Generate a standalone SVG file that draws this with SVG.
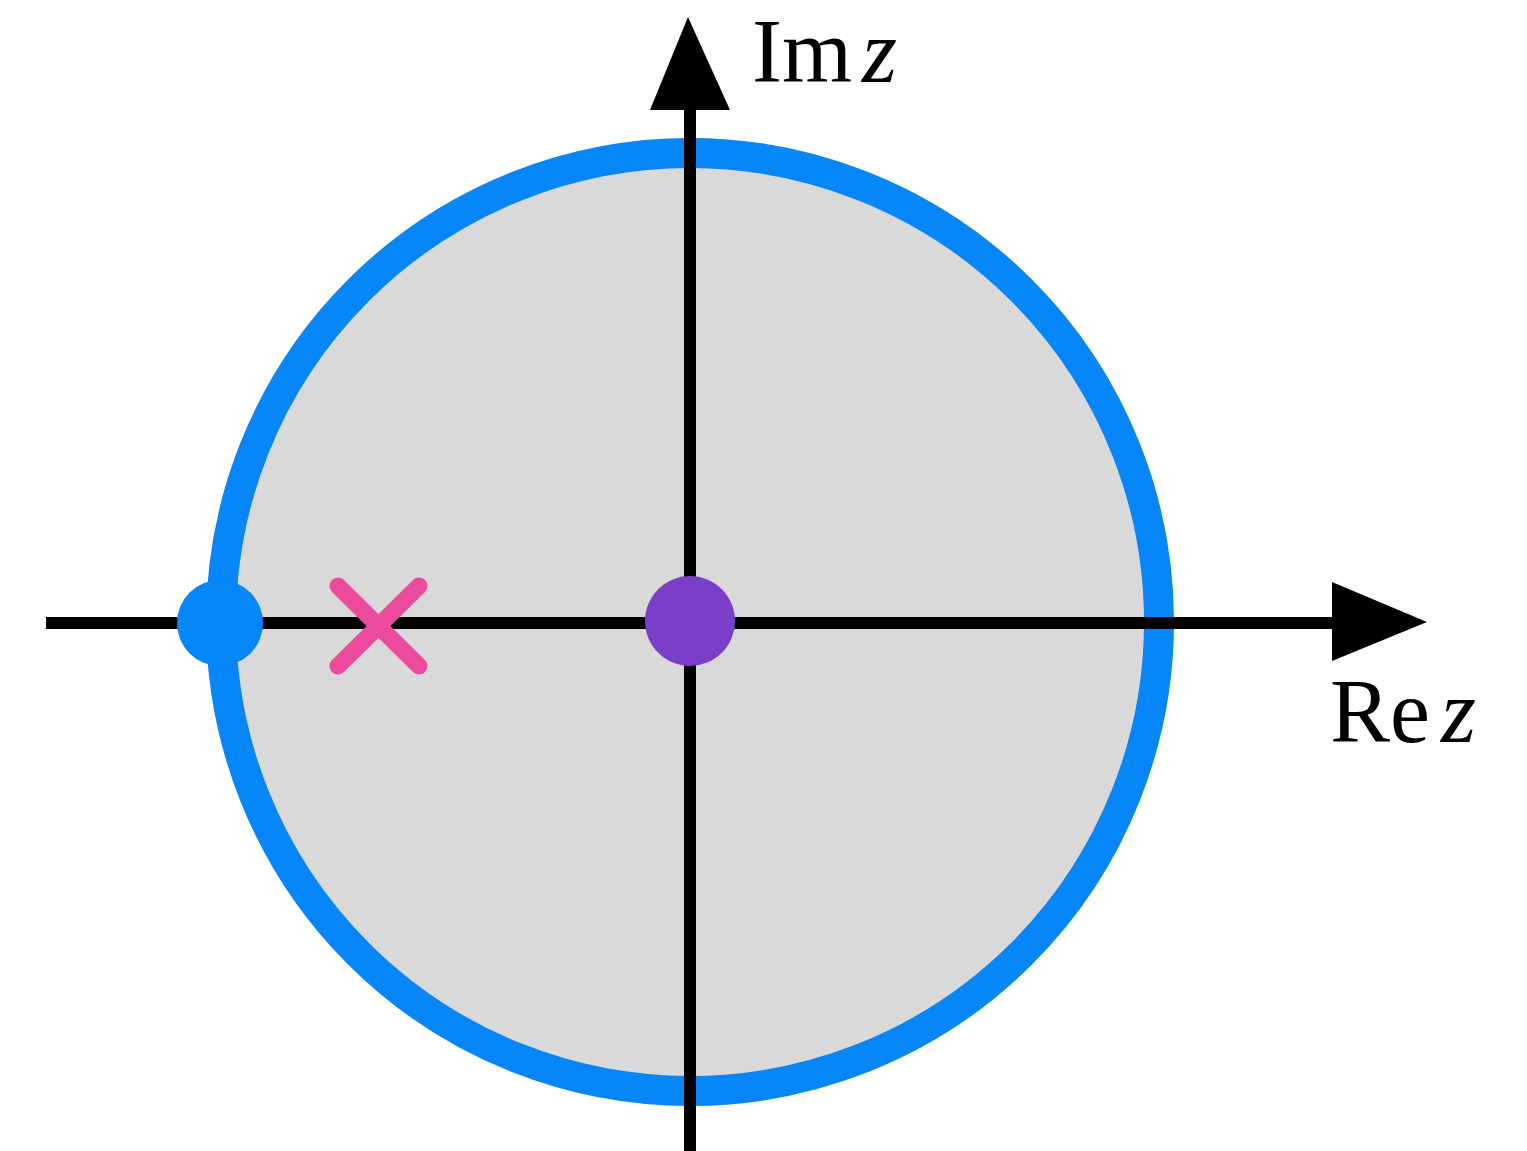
<svg xmlns="http://www.w3.org/2000/svg" width="1527" height="1151" viewBox="0 0 1527 1151">
<style>
.axis{stroke:#000;stroke-width:12;fill:none}
.head{fill:#000}
.lbl{font-family:"Liberation Serif",serif;font-size:90px;fill:#000}
.it{font-style:italic}
</style>
<rect width="1527" height="1151" fill="#fff"/>
<g id="disk">
<circle cx="690" cy="622" r="469" fill="#d9d9d9" stroke="#0686f8" stroke-width="30"/>
</g>
<g id="connectors">
<line class="axis" x1="46" y1="623" x2="1340" y2="623"/>
<polygon class="head" points="1332,582 1427,622 1332,661"/>
<line class="axis" x1="690" y1="1151" x2="690" y2="100"/>
<polygon class="head" points="650,110 688,17 730,110"/>
</g>
<g id="labels">
<text class="lbl" x="752" y="82">Im<tspan class="it" x="862">z</tspan></text>
<text class="lbl" x="1330" y="742">Re<tspan class="it" x="1441">z</tspan></text>
</g>
<g id="boundary-point"><circle cx="220" cy="623" r="43" fill="#0686f8"/></g>
<g id="pole"><path d="M338,586 L419,666 M419,586 L338,666" stroke="#ec4a9c" stroke-width="17" stroke-linecap="round" fill="none"/></g>
<g id="origin"><circle cx="690" cy="621" r="45" fill="#7a3fc8"/></g>
</svg>
